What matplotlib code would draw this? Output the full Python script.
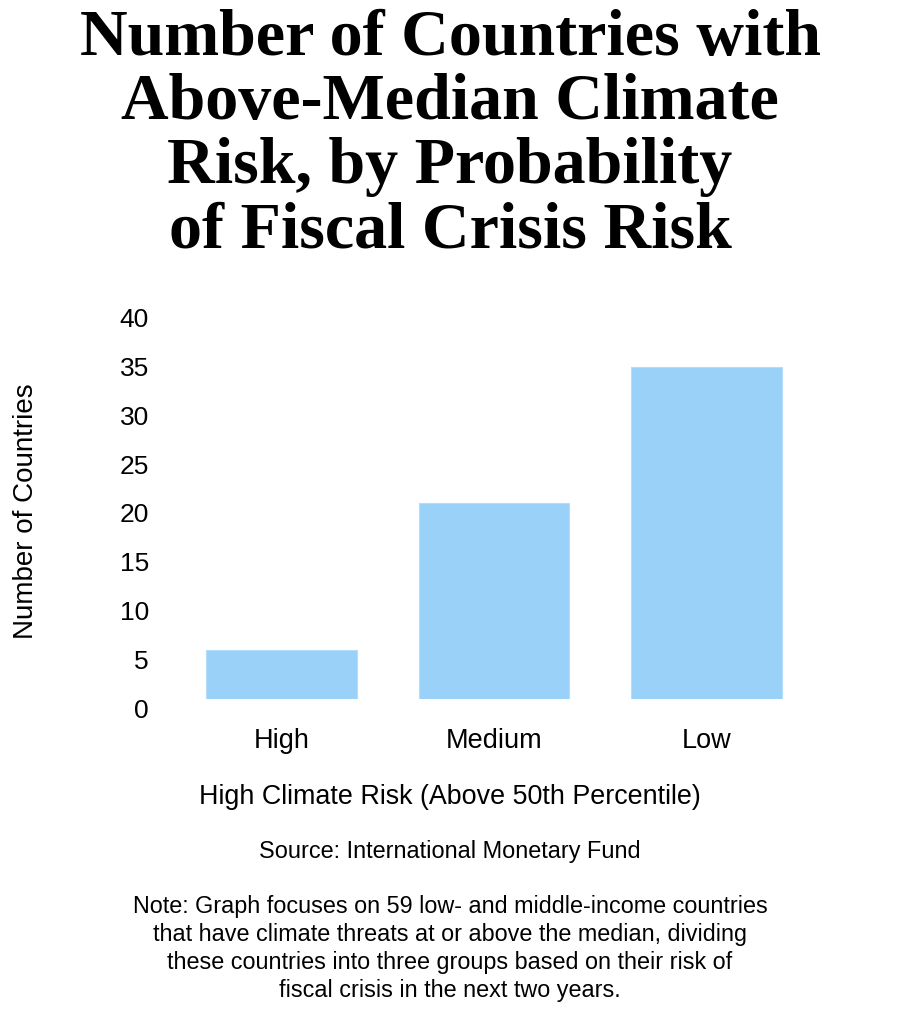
import matplotlib
matplotlib.use("Agg")
import matplotlib.pyplot as plt

# data
categories = ["High", "Medium", "Low"]
counts = [5, 20, 34]
yticks = [0, 5, 10, 15, 20, 25, 30, 35, 40]

title_lines = [
    "Number of Countries with",
    "Above-Median Climate",
    "Risk, by Probability",
    "of Fiscal Crisis Risk",
]
note_lines = [
    "Note: Graph focuses on 59 low- and middle-income countries",
    "that have climate threats at or above the median, dividing",
    "these countries into three groups based on their risk of",
    "fiscal crisis in the next two years.",
]

BAR_COLOR = "#99D1F9"
SANS = "Liberation Sans"
SERIF = "Liberation Serif"

W, H = 900, 1017
fig = plt.figure(figsize=(W / 100, H / 100), dpi=100)


def fy(px):
    """Figure fraction from a pixel row measured from the top."""
    return 1 - px / H


# title, one line at a time
for i, line in enumerate(title_lines):
    fig.text(0.5, fy(55 + 64 * i), line, ha="center", va="baseline",
             fontsize=47.5, fontweight="bold", family=SERIF, color="black")

ax = fig.add_axes([175.25 / W, fy(699), 637.5 / W, 391 / H])
x = range(len(categories))
ax.bar(x, counts, width=0.71, color=BAR_COLOR, edgecolor="#B3DDFA",
       linewidth=0.8)
ax.set_xlim(-0.5, 2.5)
ax.set_ylim(0, 40)
ax.set_xticks(list(x))
ax.set_xticklabels(categories, fontsize=19.5, family=SANS)
ax.set_yticks(yticks)
ax.set_yticklabels([str(v) for v in yticks], fontsize=19, family=SANS)
plt.setp(ax.get_yticklabels(), va="top")
ax.tick_params(axis="x", length=0, pad=21)
ax.tick_params(axis="y", length=0, pad=19)
for s in ax.spines.values():
    s.set_visible(False)

ax.set_ylabel("Number of Countries", fontsize=20, family=SANS, va="center")
ax.yaxis.set_label_coords((26 - 175.25) / 637.5, (699 - 511) / 391)
ax.set_xlabel("High Climate Risk (Above 50th Percentile)", fontsize=19.4,
              family=SANS, va="top")
ax.xaxis.set_label_coords((450 - 175.25) / 637.5, (699 - 784) / 391)

fig.text(0.5, fy(858), "Source: International Monetary Fund", ha="center",
         va="baseline", fontsize=16.9, family=SANS)
for i, line in enumerate(note_lines):
    fig.text(0.5, fy(913 + 28 * i), line, ha="center", va="baseline",
             fontsize=16.8, family=SANS)

fig.savefig("out.png", dpi=100)
